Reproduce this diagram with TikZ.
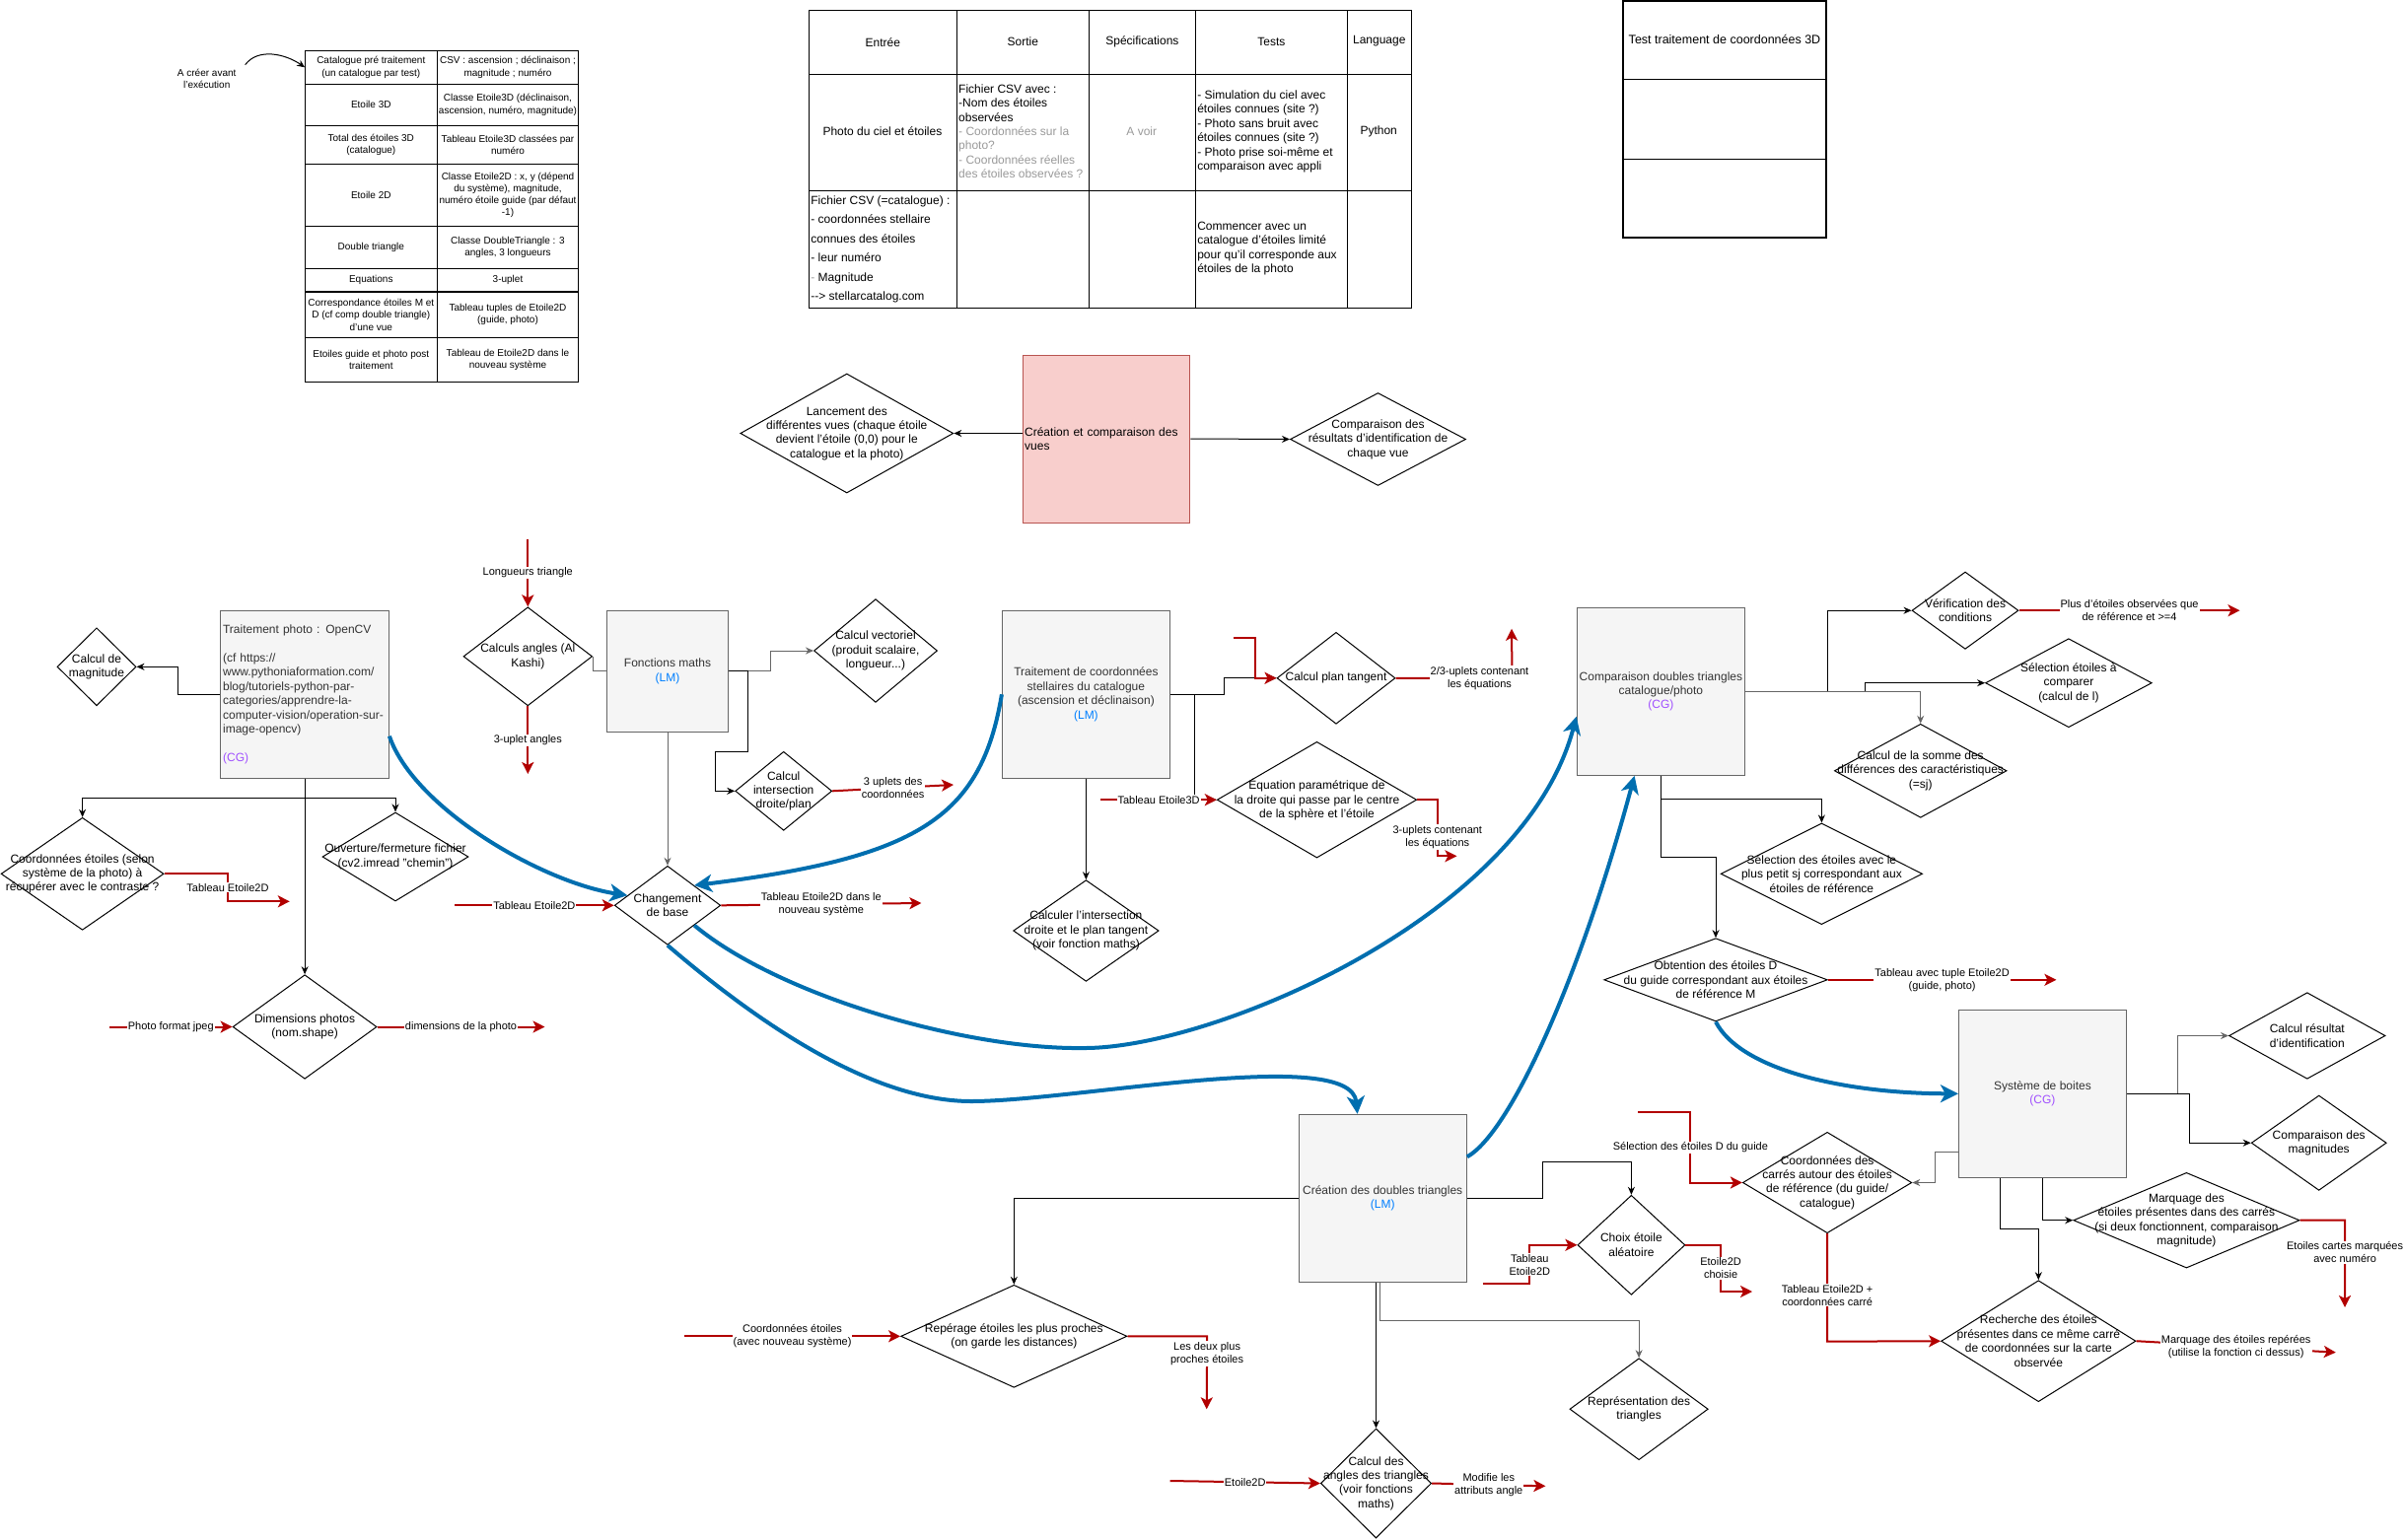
\documentclass[tikz,border=0pt]{standalone}
\usepackage{fontspec}
\setmainfont{Liberation Sans}
\usetikzlibrary{shapes.geometric,arrows.meta,calc}

\definecolor{boxfill}{HTML}{F5F5F5}
\definecolor{boxline}{HTML}{666666}
\definecolor{boxtext}{HTML}{333333}
\definecolor{pinkfill}{HTML}{F8CECC}
\definecolor{pinkline}{HTML}{B85450}
\definecolor{redline}{HTML}{B20000}
\definecolor{blueline}{HTML}{006EAF}
\definecolor{lmblue}{HTML}{007FFF}
\definecolor{cgpurple}{HTML}{A050FF}
\definecolor{softgray}{HTML}{999999}

\newcommand{\nodefont}{\fontsize{12}{14.4}\selectfont}
\newcommand{\lblfont}{\fontsize{11}{13}\selectfont}
\newcommand{\tabfont}{\fontsize{10}{12.2}\selectfont}
\newcommand{\tagLM}{\textcolor{lmblue}{(LM)}}
\newcommand{\tagCG}{\textcolor{cgpurple}{(CG)}}

\begin{document}
\begin{tikzpicture}[x=1pt, y=-1pt, font=\nodefont,
  proc/.style={draw=boxline, line width=1pt, fill=boxfill, text=boxtext, align=center, inner sep=2pt},
  dia/.style 2 args={diamond, draw, line width=1pt, minimum width=#1pt, minimum height=#2pt, inner sep=0pt},
  dtxt/.style={align=center, inner sep=0pt, font=\nodefont},
  lbl/.style={fill=white, align=center, inner sep=1pt, font=\lblfont},
  tabcell/.style={align=center, inner sep=1pt, font=\tabfont},
  tabline/.style={line width=1.2pt},
  arrowline/.style={line width=1pt, -{Stealth[length=8pt,width=7pt]}},
  grayline/.style={arrowline, draw=boxline},
  gwire/.style={line width=1pt, draw=boxline},
  redflow/.style={draw=redline, line width=2pt, -{Stealth[length=12pt,width=12pt,inset=3pt]}},
  blueflow/.style={draw=blueline, line width=4pt, -{Stealth[length=18pt,width=18pt,inset=5pt]}}]

  % Page
  \useasboundingbox (0,0) rectangle (2438,1561);

  % Data types table
  \draw[tabline] (309.3,51.3) rectangle (586.7,387.7);
  \draw[tabline] (443.3,51.3) -- (443.3,387.7);
  \draw[tabline] (309.3,85.3) -- (586.7,85.3);
  \draw[tabline] (309.3,127.3) -- (586.7,127.3);
  \draw[tabline] (309.3,166.3) -- (586.7,166.3);
  \draw[tabline] (309.3,229.3) -- (586.7,229.3);
  \draw[tabline] (309.3,272.3) -- (586.7,272.3);
  \draw[tabline] (309.3,296) -- (586.7,296);
  \draw[tabline] (309.3,342.3) -- (586.7,342.3);

  \node[tabcell, minimum width=134pt] (catPre) at (376.3,68.3) {Catalogue pré traitement\\(un catalogue par test)};
  \node[tabcell] (catCsv) at (515,68.3) {CSV : ascension ; déclinaison ;\\magnitude ; numéro};
  \node[tabcell] (et3d) at (376.3,106.3) {Etoile 3D};
  \node[tabcell] (et3dCl) at (515,106.3) {Classe Etoile3D (déclinaison,\\ascension, numéro, magnitude)};
  \node[tabcell] (tot3d) at (376.3,146.8) {Total des étoiles 3D\\(catalogue)};
  \node[tabcell] (tot3dTab) at (515,146.8) {Tableau Etoile3D classées par\\numéro};
  \node[tabcell] (et2d) at (376.3,197.8) {Etoile 2D};
  \node[tabcell] (et2dCl) at (515,197.8) {Classe Etoile2D : x, y (dépend\\du système), magnitude,\\numéro étoile guide (par défaut\\-1)};
  \node[tabcell] (dbl) at (376.3,250.8) {Double triangle};
  \node[tabcell] (dblCl) at (515,250.8) {Classe DoubleTriangle : 3\\angles, 3 longueurs};
  \node[tabcell] (eqs) at (376.3,284.2) {Equations};
  \node[tabcell] (eqsVal) at (515,284.2) {3-uplet};
  \node[tabcell] (corr) at (376.3,319.2) {Correspondance étoiles M et\\D (cf comp double triangle)\\d'une vue};
  \node[tabcell] (corrTab) at (515,319.2) {Tableau tuples de Etoile2D\\(guide, photo)};
  \node[tabcell] (post) at (376.3,365) {Etoiles guide et photo post\\traitement};
  \node[tabcell] (postTab) at (515,365) {Tableau de Etoile2D dans le\\nouveau système};

  \node[tabcell] (cree) at (209.7,79.7) {A créer avant\\l'exécution};
  \draw[arrowline] ([xshift=8pt,yshift=3pt]cree.north east) .. controls (262,48) and (290,55) .. (catPre.west);

  % Specification table
  \draw[tabline] (820.2,10.7) rectangle (1431.2,312.3);
  \draw[tabline] (970.4,10.7) -- (970.4,312.3);
  \draw[tabline] (1104.3,10.7) -- (1104.3,312.3);
  \draw[tabline] (1212.4,10.7) -- (1212.4,312.3);
  \draw[tabline] (1366.3,10.7) -- (1366.3,312.3);
  \draw[tabline] (820.2,75.3) -- (1431.2,75.3);
  \draw[tabline] (820.2,193.3) -- (1431.2,193.3);

  \node (hEntree) at (895.3,42.7) {Entrée};
  \node (hSortie) at (1037.4,42.7) {Sortie};
  \node (hSpec) at (1158.4,42.7) {Spécifications};
  \node (hTests) at (1289.4,42.7) {Tests};
  \node (hLang) at (1398.8,41.7) {Language};
  \node (ciel) at (894.9,133.3) {Photo du ciel et étoiles};
  \node[anchor=west, align=left, inner sep=0pt] (sortie) at (972,133.3) {Fichier CSV avec :\\-Nom des étoiles\\observées\\\textcolor{softgray}{- Coordonnées sur la}\\\textcolor{softgray}{photo?}\\\textcolor{softgray}{- Coordonnées réelles}\\\textcolor{softgray}{des étoiles observées ?}};
  \node[text=softgray] (avoir) at (1157.8,133.3) {A voir};
  \node[anchor=west, align=left, inner sep=0pt] (tests) at (1214.1,133.3) {- Simulation du ciel avec\\étoiles connues (site ?)\\- Photo sans bruit avec\\étoiles connues (site ?)\\- Photo prise soi-même et\\comparaison avec appli};
  \node (python) at (1398.2,133.3) {Python};
  \node[anchor=west, align=left, inner sep=0pt, font=\fontsize{12}{19.4}\selectfont] (catalogue) at (822.2,252.8) {Fichier CSV (=catalogue) :\\- coordonnées stellaire\\connues des étoiles\\- leur numéro\\\textcolor{softgray}{-} Magnitude\\-{}-{}> stellarcatalog.com};
  \node[anchor=west, align=left, inner sep=0pt] (limite) at (1214.1,252) {Commencer avec un\\catalogue d'étoiles limité\\pour qu'il corresponde aux\\étoiles de la photo};

  % Test box (top right)
  \draw[tabline] (1646,1) rectangle (1852,241);
  \draw[tabline] (1646,80.3) -- (1852,80.3);
  \draw[tabline] (1646,161.3) -- (1852,161.3);
  \node[font=\fontsize{12.5}{15}\selectfont] (testTitle) at (1749,40) {Test traitement de coordonnées 3D};

  % Views
  \node[draw=pinkline, line width=1pt, fill=pinkfill, minimum width=169.7pt, minimum height=170pt, text width=165.7pt, align=left, inner sep=2pt] (vues) at (1122,445) {Création et comparaison des\\vues};
  \node[dia={216}{121}, label={[dtxt]center:{Lancement des\\différentes vues (chaque étoile\\devient l'étoile (0,0) pour le\\catalogue et la photo)}}] (lancement) at (858.8,439.5) {};
  \node[dia={178}{94}, label={[dtxt]center:{Comparaison des\\résultats d'identification de\\chaque vue}}] (resultats) at (1397.5,445.5) {};

  % Process boxes
  \node[proc, minimum width=170.6pt, minimum height=170pt, text width=166pt, align=left] (photo) at (309.1,704.3) {Traitement photo : OpenCV\\\mbox{}\\(cf https://\\www.pythoniaformation.com/\\blog/tutoriels-python-par-\\categories/apprendre-la-\\computer-vision/operation-sur-\\image-opencv)\\\mbox{}\\\tagCG};
  \node[proc, minimum width=122.4pt, minimum height=123pt] (maths) at (677,680.8) {Fonctions maths\\\tagLM};
  \node[proc, minimum width=170pt, minimum height=170pt] (coord) at (1101.4,704.3) {Traitement de coordonnées\\stellaires du catalogue\\(ascension et déclinaison)\\\tagLM};
  \node[proc, minimum width=170.4pt, minimum height=170pt] (comp) at (1684.4,701.3) {Comparaison doubles triangles\\catalogue/photo\\\tagCG};
  \node[proc, minimum width=170pt, minimum height=170pt] (boites) at (2071.4,1109.3) {Système de boites\\\tagCG};
  \node[proc, minimum width=170.4pt, minimum height=170pt] (doubles) at (1402.2,1215.3) {Création des doubles triangles\\\tagLM};

  % Decisions
  \node[dia={80}{79}, label={[dtxt]center:{Calcul de\\magnitude}}] (magni) at (98,676.3) {};
  \node[dia={165}{114}, label={[dtxt]center:{Coordonnées étoiles (selon\\système de la photo) à\\récupérer avec le contraste ?}}] (contraste) at (83.6,886.3) {};
  \node[dia={148}{90}, label={[dtxt]center:{Ouverture/fermeture fichier\\(cv2.imread "chemin")}}] (ouverture) at (401,869) {};
  \node[dia={146}{105.6}, label={[dtxt]center:{Dimensions photos\\(nom.shape)}}] (dims) at (309.1,1041.5) {};
  \node[dia={130.6}{100}, label={[dtxt]center:{Calculs angles (Al\\Kashi)}}] (angles) at (535.3,665.8) {};
  \node[dia={125}{104.7}, label={[dtxt]center:{Calcul vectoriel\\(produit scalaire,\\longueur...)}}] (vectoriel) at (888,660) {};
  \node[dia={98}{80}, label={[dtxt]center:{Calcul\\intersection\\droite/plan}}] (intersec) at (794.7,802.3) {};
  \node[dia={107.5}{80}, label={[dtxt]center:{Changement\\de base}}] (base) at (677,918.3) {};
  \node[dia={120}{93}, label={[dtxt]center:{Calcul plan tangent}}] (tangent) at (1355,687.8) {};
  \node[dia={202.4}{117.7}, label={[dtxt]center:{Équation paramétrique de\\la droite qui passe par le centre\\de la sphère et l'étoile}}] (droite) at (1335.5,811.2) {};
  \node[dia={147.5}{102.7}, label={[dtxt]center:{Calculer l'intersection\\droite et le plan tangent\\(voir fonction maths)}}] (calcinter) at (1101.4,944) {};
  \node[dia={108}{78.3}, label={[dtxt]center:{Vérification des\\conditions}}] (verif) at (1993,619.2) {};
  \node[dia={168.7}{90}, label={[dtxt]center:{Sélection étoiles à\\comparer\\(calcul de l)}}] (selcomp) at (2097.9,692.7) {};
  \node[dia={174.7}{95}, label={[dtxt]center:{Calcul de la somme des\\différences des caractéristiques\\(=sj)}}] (somme) at (1947.7,781.8) {};
  \node[dia={204.5}{102.7}, label={[dtxt]center:{Sélection des étoiles avec le\\plus petit sj correspondant aux\\étoiles de référence}}] (petitsj) at (1847.4,886.3) {};
  \node[dia={226.6}{84.3}, label={[dtxt]center:{Obtention des étoiles D\\du guide correspondant aux étoiles\\de référence M}}] (obtention) at (1740,993.8) {};
  \node[dia={158.5}{87.6}, label={[dtxt]center:{Calcul résultat\\d'identification}}] (resident) at (2339.8,1050.5) {};
  \node[dia={137}{96.3}, label={[dtxt]center:{Comparaison des\\magnitudes}}] (magnitudes) at (2351.7,1159.2) {};
  \node[dia={171.4}{102.4}, label={[dtxt]center:{Coordonnées des\\carrés autour des étoiles\\de référence (du guide/\\catalogue)}}] (carres) at (1853.1,1199.5) {};
  \node[dia={229.3}{96.7}, label={[dtxt]center:{Marquage des\\étoiles présentes dans des carrés\\(si deux fonctionnent, comparaison\\magnitude)}}] (marquage) at (2217.4,1237.7) {};
  \node[dia={197.4}{123}, label={[dtxt]center:{Recherche des étoiles\\présentes dans ce même carré\\de coordonnées sur la carte\\observée}}] (recherche) at (2067.3,1360.2) {};
  \node[dia={109}{101}, label={[dtxt]center:{Choix étoile\\aléatoire}}] (choix) at (1654.4,1262.8) {};
  \node[dia={229.4}{104}, label={[dtxt]center:{Repérage étoiles les plus proches\\(on garde les distances)}}] (reperage) at (1028.3,1355.3) {};
  \node[dia={140.3}{103}, label={[dtxt]center:{Représentation des\\triangles}}] (representation) at (1662.1,1429.2) {};
  \node[dia={112.3}{111}, label={[dtxt]center:{Calcul des\\angles des triangles\\(voir fonctions\\maths)}}] (calcangles) at (1395.5,1504.5) {};

  % Free ends of the data arrows
  \coordinate (longIn) at (535.3,546.7);
  \coordinate (angOut) at (535.3,785);
  \coordinate (ctrOut) at (293.8,914.3);
  \coordinate (jpegIn) at (111,1041.5);
  \coordinate (dimOut) at (552.5,1041.5);
  \coordinate (uplOut) at (967,796);
  \coordinate (tabIn) at (461,918.3);
  \coordinate (tabOut) at (934.4,916);
  \coordinate (tgIn) at (1251.3,647.3);
  \coordinate (tgOut) at (1533,637.7);
  \coordinate (e3dIn) at (1116.4,811.2);
  \coordinate (eqOut) at (1477.4,868.3);
  \coordinate (verOut) at (2271.5,619.2);
  \coordinate (obtOut) at (2085.4,993.8);
  \coordinate (selIn) at (1661.4,1128.3);
  \coordinate (marqOut) at (2378,1326);
  \coordinate (rechOut) at (2368.8,1371.7);
  \coordinate (repIn) at (694,1355.3);
  \coordinate (repOut) at (1223.7,1429.3);
  \coordinate (e2dIn) at (1186.5,1502);
  \coordinate (angleOut) at (1567.4,1507.3);
  \coordinate (choixIn) at (1503.6,1302.3);
  \coordinate (choixOut) at (1777,1310);

  % Control links
  \draw[arrowline] (vues.west |- lancement.east) -- (lancement.east);
  \draw[arrowline] (vues.east) -- (resultats.west);
  \draw[arrowline] (photo.west) -- ++(-42.75,0) |- (magni.east);
  \draw[arrowline] (photo.south) -- (dims.north);
  \draw[arrowline] (photo.south) -- ++(0,20) -| (contraste.north);
  \draw[arrowline] (photo.south) -- ++(0,20) -| (ouverture.north);
  \draw[gwire] (maths.west) -| (angles.east);
  \draw[grayline] (maths.east) -- ++(43,0) |- (vectoriel.west);
  \draw[arrowline] (maths.east) -- ++(20,0) -- ++(0,81.5) -- ++(-33,0) |- (intersec.west);
  \draw[grayline] (maths.south) -- (base.north);
  \draw[arrowline] (coord.east) -- ++(54.6,0) |- (tangent.west);
  \draw[arrowline] (coord.east) -- ++(24.1,0) |- (droite.west);
  \draw[arrowline] (coord.south) -- (calcinter.north);
  \draw[arrowline] (comp.east) -- ++(83.8,0) |- (verif.west);
  \draw[arrowline] (comp.east) -- ++(121.6,0) |- (selcomp.west);
  \draw[grayline] (comp.east) -| (somme.north);
  \draw[arrowline] (comp.south) -- ++(0,23.7) -| (petitsj.north);
  \draw[arrowline] (comp.south) -- ++(0,82.7) -| (obtention.north);
  \draw[grayline] (boites.east) -- ++(51.9,0) |- (resident.west);
  \draw[arrowline] (boites.east) -- ++(63.7,0) |- (magnitudes.west);
  \draw[grayline] ([yshift=-59pt]boites.west) -- ++(-23.8,0) |- (carres.east);
  \draw[arrowline] ([xshift=-42.7pt]boites.south) -- ++(0,51.7) -| (recherche.north);
  \draw[arrowline] (boites.south) |- (marquage.west);
  \draw[arrowline] (doubles.west) -| (reperage.north);
  \draw[arrowline] (doubles.east) -- ++(76.5,0) -- ++(0,-37) -| (choix.north);
  \draw[grayline] ([xshift=-3pt]doubles.south) -- ++(0,38.7) -| (representation.north);
  \draw[arrowline] ([xshift=-6.7pt]doubles.south) -- (calcangles.north);

  % Data arrows
  \draw[redflow] (longIn) -- node[lbl] (lbLong) {Longueurs triangle} (angles.north);
  \draw[redflow] (angles.south) -- node[lbl] (lbAng) {3-uplet angles} (angOut);
  \draw[redflow] (contraste.east) -- ++(64.4,0) -- node[lbl] (lbCtr) {Tableau Etoile2D} ++(0,28) -- (ctrOut);
  \draw[redflow] (jpegIn) -- node[lbl] (lbJpeg) {Photo format jpeg} (dims.west);
  \draw[redflow] (dims.east) -- node[lbl] (lbDim) {dimensions de la photo} (dimOut);
  \draw[redflow] (intersec.east) -- node[lbl] (lbUpl) {3 uplets des\\coordonnées} (uplOut);
  \draw[redflow] (tabIn) -- node[lbl] (lbTabIn) {Tableau Etoile2D} (base.west);
  \draw[redflow] (base.east) -- node[lbl] (lbTabOut) {Tableau Etoile2D dans le\\nouveau système} (tabOut);
  \draw[redflow] (tgIn) -- ++(22.1,0) |- (tangent.west);
  \draw[redflow] (tangent.east) -- node[lbl, pos=0.72] (lbTg) {2/3-uplets contenant\\les équations} ++(118,0) -- (tgOut);
  \draw[redflow] (e3dIn) -- node[lbl] (lbE3d) {Tableau Etoile3D} (droite.west);
  \draw[redflow] (droite.east) -- ++(20.6,0) -- node[lbl, pos=0.66] (lbEq) {3-uplets contenant\\les équations} ++(0,57.1) -- (eqOut);
  \draw[redflow] (verif.east) -- node[lbl] (lbVer) {Plus d'étoiles observées que\\de référence et >=4} (verOut);
  \draw[redflow] (obtention.east) -- node[lbl] (lbObt) {Tableau avec tuple Etoile2D\\(guide, photo)} (obtOut);
  \draw[redflow] (selIn) -- ++(53,0) -- node[lbl] (lbSel) {Sélection des étoiles D du guide} ++(0,71.2) -- (carres.west);
  \draw[redflow] (carres.south) -- node[lbl, pos=0.57] (lbCar) {Tableau Etoile2D +\\coordonnées carré} ++(0,109.5) -- (recherche.west);
  \draw[redflow] (marquage.east) -- ++(45.6,0) -- node[lbl, pos=0.37] (lbMarq) {Etoiles cartes marquées\\avec numéro} (marqOut);
  \draw[redflow] (recherche.east) -- node[lbl] (lbRech) {Marquage des étoiles repérées\\(utilise la fonction ci dessus)} (rechOut);
  \draw[redflow] (repIn) -- node[lbl] (lbRepIn) {Coordonnées étoiles\\(avec nouveau système)} (reperage.west);
  \draw[redflow] (reperage.east) -- ++(80.7,0) -- node[lbl, pos=0.24] (lbRep) {Les deux plus\\proches étoiles} (repOut);
  \draw[redflow] (e2dIn) -- node[lbl] (lbE2d) {Etoile2D} (calcangles.west);
  \draw[redflow] (calcangles.east) -- node[lbl] (lbAngOut) {Modifie les\\attributs angle} (angleOut);
  \draw[redflow] (choixIn) -- ++(47.7,0) -- node[lbl] (lbChIn) {Tableau\\Etoile2D} ++(0,-39.5) -- (choix.west);
  \draw[redflow] (choix.east) -- ++(35.7,0) -- node[lbl] (lbChOut) {Etoile2D\\choisie} ++(0,47.2) -- (choixOut);

  % Main flow
  \draw[blueflow] ([yshift=-42.4pt]photo.east) .. controls (420,820) and (550,895) .. ($(base.west)!0.25!(base.north)$);
  \draw[blueflow] (coord.west) .. controls (995,830) and (930,870) .. ($(base.north)!0.5!(base.east)$);
  \draw[blueflow] ($(base.east)!0.5!(base.south)$) .. controls (790,1010) and (980,1065) .. (1100,1063)
    .. controls (1230,1063) and (1545,930) .. ([yshift=-25.4pt]comp.west);
  \draw[blueflow] (base.south) .. controls (760,1030) and (880,1117) .. (985,1117)
    .. controls (1090,1117) and (1370,1060) .. ([xshift=-25.6pt]doubles.north);
  \draw[blueflow] ([yshift=42pt]doubles.east) .. controls (1530,1150) and (1600,1000) .. ([xshift=-26.8pt]comp.south);
  \draw[blueflow] (obtention.south) .. controls (1765,1085) and (1870,1109) .. (boites.west);

\end{tikzpicture}
\end{document}
